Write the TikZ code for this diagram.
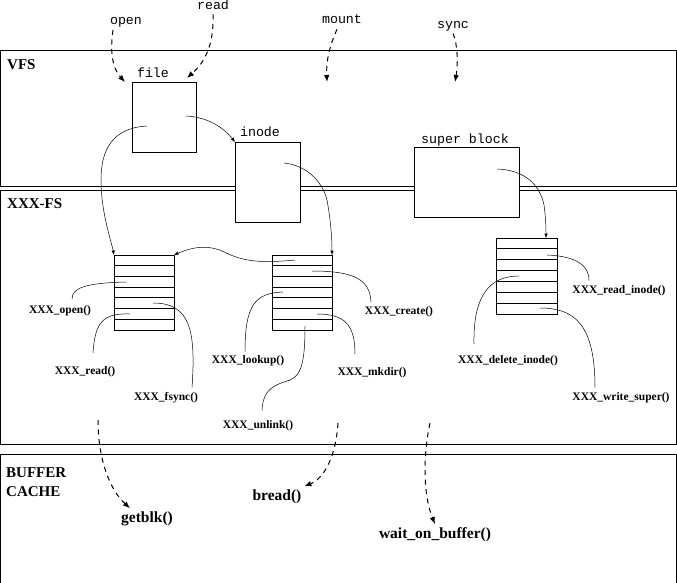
\documentclass[tikz,border=0pt]{standalone}
\usepackage{fontspec}
\setmainfont{Liberation Serif}
\newfontfamily\monofont{Liberation Mono}
\usetikzlibrary{arrows.meta,calc}
\begin{document}
\begin{tikzpicture}[x=1pt,y=-1pt,
  layer/.style={line width=0.8pt},
  obj/.style={draw,line width=0.8pt,fill=white,inner sep=0pt,outer sep=0pt},
  tbl/.style={draw,line width=0.8pt,fill=white,inner sep=0pt,outer sep=0pt,minimum width=60pt},
  rowline/.style={line width=0.8pt},
  mlabel/.style={font=\monofont\fontsize{13.3}{14}\selectfont,inner sep=0pt,anchor=base},
  layername/.style={font=\bfseries\fontsize{15}{18}\selectfont,inner sep=0pt,anchor=base west},
  fnlabel/.style={font=\bfseries\fontsize{11.5}{12}\selectfont,inner sep=1pt,outer sep=0pt,anchor=base},
  biglabel/.style={font=\bfseries\fontsize{15.5}{18}\selectfont,inner sep=1pt,outer sep=2pt,anchor=base},
  link/.style={line width=0.5pt,-{Latex[length=4.5pt,width=3.5pt]}},
  plain/.style={line width=0.5pt},
  call/.style={line width=1pt,dash pattern=on 5pt off 4.5pt,-{Latex[length=7pt,width=5.5pt]}},
]
\useasboundingbox (0,0) rectangle (677,583);

% layers
\draw[layer] (0.5,50) rectangle (676,186);
\draw[layer] (0.5,190) rectangle (676,444);
\draw[layer] (0.5,583) -- (0.5,454) -- (676,454) -- (676,583);
\node[layername] (vfs) at (7,70) {VFS};
\node[layername] (xfs) at (7,208) {XXX-FS};
\node[layername] (buf) at (6,477) {BUFFER};
\node[layername] (cache) at (6,496) {CACHE};

% VFS objects
\node[obj,minimum width=64pt,minimum height=70pt] (file) at (164,117) {};
\node[obj,minimum width=65pt,minimum height=80pt] (inode) at (267.5,182) {};
\node[obj,minimum width=105pt,minimum height=70pt] (super) at (466.5,182) {};
\node[mlabel] (filel) at (153,78) {file};
\node[mlabel] (inodel) at (260,137) {inode};
\node[mlabel] (superl) at (465,143) {super block};
\node[mlabel] (open) at (126,25) {open};
\node[mlabel] (read) at (213,10) {read};
\node[mlabel] (mount) at (342,24) {mount};
\node[mlabel] (sync) at (453,29) {sync};

% operation tables
\node[tbl,minimum height=75pt] (t1) at (144,292.5) {};
\node[tbl,minimum height=75pt] (t2) at (302,292.5) {};
\node[tbl,minimum height=76pt,minimum width=61pt] (t3) at (526.5,276) {};
\foreach \t in {t1,t2,t3}{
  \foreach \i in {1,...,6}{
    \draw[rowline] ($(\t.north west)!\i/7!(\t.south west)$) -- ($(\t.north east)!\i/7!(\t.south east)$);
  }
}

% points inside boxes and rows
\coordinate (fileA) at (147,126);
\coordinate (fileB) at (186,116);
\coordinate (inodeA) at (284,163);
\coordinate (superA) at (497,169);
\coordinate (t2A) at (295,260);
\coordinate (t3top) at (546,238);
\coordinate (r-open) at (126,282);
\coordinate (r-read) at (130,314);
\coordinate (r-fsync) at (153,303);
\coordinate (r-lookup) at (283,292);
\coordinate (r-unlink) at (305,326);
\coordinate (r-create) at (312,271);
\coordinate (r-mkdir) at (317,314);
\coordinate (r-rinode) at (547,255);
\coordinate (r-dinode) at (519,276);
\coordinate (r-wsuper) at (540,308);

% pointers
\draw[link] (fileA) .. controls (112,128) and (101,150) .. (101,180) .. controls (101,212) and (111,240) .. (t1.north west);
\draw[link] (fileB) .. controls (208,117) and (224,128) .. (inode.north west);
\draw[link] (inodeA) .. controls (305,165) and (322,180) .. (327,200) .. controls (331,222) and (332,240) .. (t2.north east);
\draw[link] (t2A) .. controls (255,264) and (240,260) .. (222,251) .. controls (205,244) and (190,248) .. (t1.north east);
\draw[link] (superA) .. controls (525,170) and (540,185) .. (544,205) .. controls (546,220) and (546,230) .. (t3top);

% function labels
\node[fnlabel] (fopen) at (60,313) {XXX\_open()};
\node[fnlabel] (fread) at (85,374) {XXX\_read()};
\node[fnlabel] (ffsync) at (166,400) {XXX\_fsync()};
\node[fnlabel] (flookup) at (248,363) {XXX\_lookup()};
\node[fnlabel] (funlink) at (258,428) {XXX\_unlink()};
\node[fnlabel] (fcreate) at (399,314) {XXX\_create()};
\node[fnlabel] (fmkdir) at (372,375) {XXX\_mkdir()};
\node[fnlabel] (frinode) at (619,293) {XXX\_read\_inode()};
\node[fnlabel] (fdinode) at (508,363) {XXX\_delete\_inode()};
\node[fnlabel] (fwsuper) at (621,400) {XXX\_write\_super()};

\draw[plain] ([xshift=12pt,yshift=5pt]fopen.north) .. controls (72,288) and (85,283) .. (r-open);
\draw[plain] ([xshift=8pt,yshift=12pt]fread.north) .. controls (95,322) and (103,313) .. (r-read);
\draw[plain] ([xshift=26pt,yshift=3.5pt]ffsync.north) .. controls (196,330) and (190,303) .. (r-fsync);
\draw[plain] ([xshift=-3pt,yshift=2.5pt]flookup.north) .. controls (245,305) and (255,293) .. (r-lookup);
\draw[plain] ([xshift=4pt,yshift=8.5pt]funlink.north) .. controls (263,388) and (275,385) .. (290,380) .. controls (302,375) and (305,360) .. (r-unlink);
\draw[plain] ([xshift=-28pt,yshift=3pt]fcreate.north) .. controls (370,280) and (355,271) .. (r-create);
\draw[plain] ([xshift=-17pt,yshift=12pt]fmkdir.north) .. controls (355,325) and (345,314) .. (r-mkdir);
\draw[plain] ([xshift=-30pt,yshift=3.5pt]frinode.north) .. controls (589,262) and (570,256) .. (r-rinode);
\draw[plain] ([xshift=-34pt,yshift=10pt]fdinode.north) .. controls (473,295) and (490,276) .. (r-dinode);
\draw[plain] ([xshift=-26pt,yshift=3.5pt]fwsuper.north) .. controls (595,325) and (575,308) .. (r-wsuper);

% system calls into VFS
\coordinate (mountEnd) at (327,82);
\coordinate (syncEnd) at (455,82);
\draw[call] ([xshift=-13pt,yshift=-2pt]open.south) .. controls (110,50) and (112,68) .. ([xshift=-7pt]file.north west);
\draw[call] ([yshift=-4pt]read.south) .. controls (214,45) and (205,62) .. ([xshift=-9pt,yshift=4pt]file.north east);
\draw[call] ([xshift=-5pt,yshift=-5pt]mount.south) .. controls (330,45) and (326,60) .. (mountEnd);
\draw[call] ([yshift=-1.5pt]sync.south) .. controls (458,45) and (458,65) .. (syncEnd);

% buffer cache
\node[biglabel] (getblk) at (147,522) {getblk()};
\node[biglabel] (bread) at (277,500) {bread()};
\node[biglabel] (wait) at (435,538) {wait\_on\_buffer()};
\coordinate (c1) at (98,420);
\coordinate (c2) at (338,423);
\coordinate (c3) at (430,423);
\draw[call] (c1) .. controls (98,460) and (110,490) .. ([xshift=-17pt]getblk.north);
\draw[call] (c2) .. controls (336,455) and (325,478) .. (bread.north east);
\draw[call] (c3) .. controls (423,455) and (423,495) .. (wait.north);
\end{tikzpicture}
\end{document}
